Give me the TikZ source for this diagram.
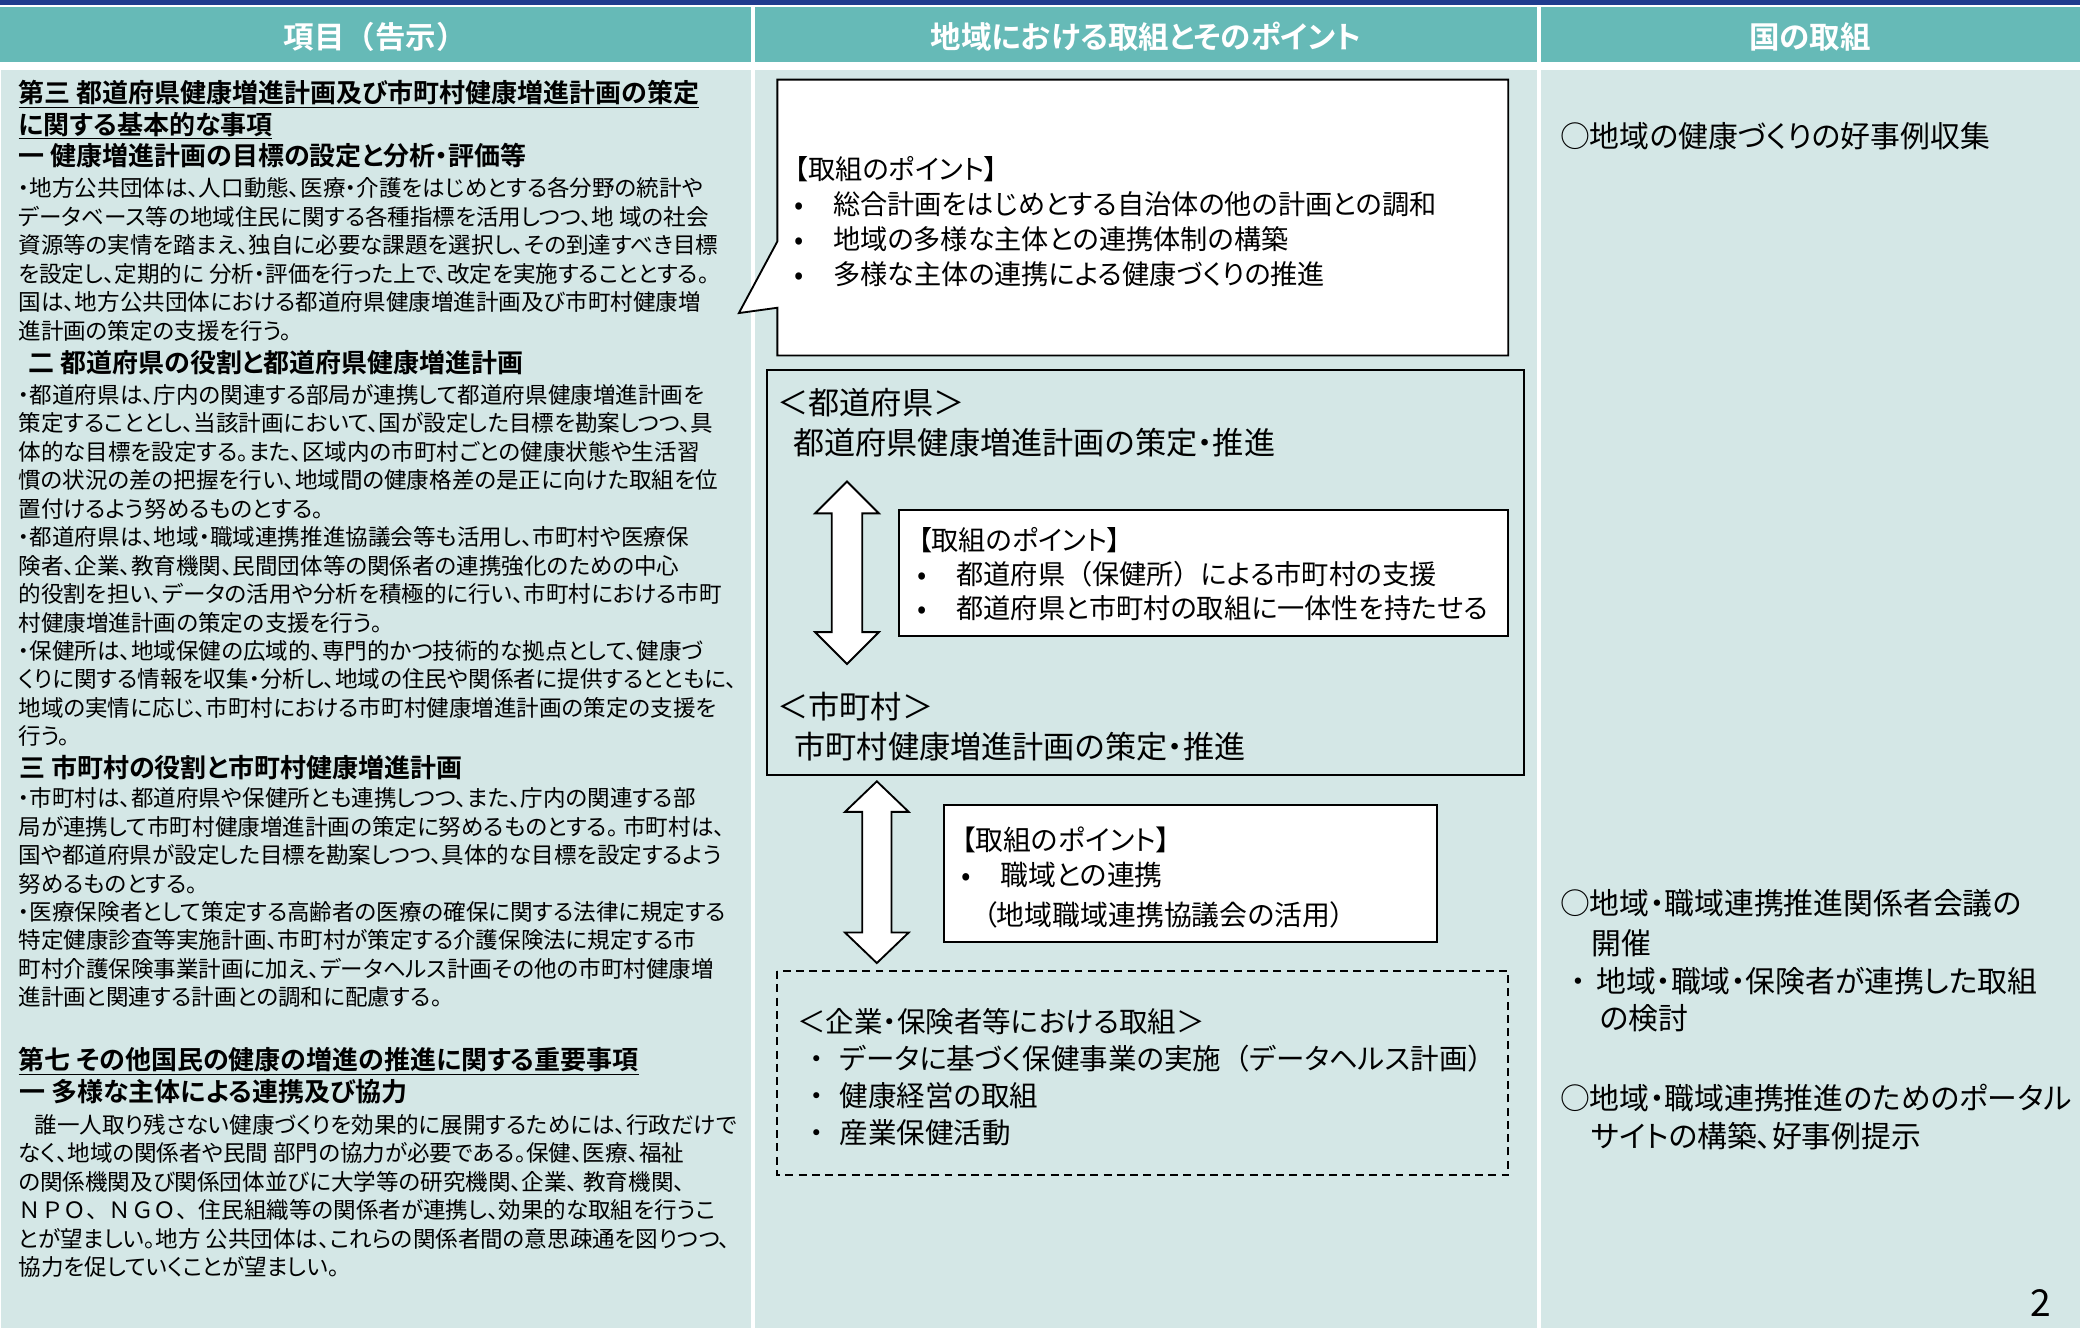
\documentclass[tikz,border=0pt]{standalone}
\usepackage{fontspec}
\setmainfont{Noto Sans CJK JP}[BoldFont={Noto Sans CJK JP Bold},RawFeature=+palt]
\newfontfamily\fwjp{Noto Sans CJK JP}[BoldFont={Noto Sans CJK JP Bold}]
\newcommand{\fwp}[1]{{\fwjp #1}}
\definecolor{hdrteal}{HTML}{66BAB7}
\definecolor{bodybg}{HTML}{D4E7E6}
\definecolor{navytop}{HTML}{203C8E}
\tikzset{
  txt/.style={inner sep=0pt, outer sep=0pt, anchor=base west, align=left, text=black},
  bodyf/.style={txt, font=\fontsize{17pt}{21.45pt}\selectfont},
  headf/.style={txt, font=\bfseries\fontsize{19.6pt}{23.8pt}\selectfont},
  subf/.style={txt, font=\bfseries\fontsize{19.6pt}{22pt}\selectfont},
  colhead/.style={inner sep=0pt, anchor=center, text=white, font=\bfseries\fontsize{23pt}{26pt}\selectfont},
  framebox/.style={draw=black, line width=1.4pt, line join=miter},
  whitebox/.style={framebox, fill=white},
  dashbox/.style={draw=black, line width=1.3pt, dash pattern=on 6pt off 4pt},
  dblarrow/.style={draw=black, fill=white, line width=1.4pt, line join=miter},
  bubblef/.style={txt, font=\fontsize{20.5pt}{26.4pt}\selectfont},
  innerf/.style={txt, font=\fontsize{20.5pt}{25.75pt}\selectfont},
  pointf/.style={txt, font=\fontsize{21pt}{26.6pt}\selectfont},
  bigf/.style={txt, font=\fontsize{23.5pt}{30pt}\selectfont},
  dashf/.style={txt, font=\fontsize{21.5pt}{28pt}\selectfont},
  rightf/.style={txt, font=\fontsize{22.5pt}{29.2pt}\selectfont},
}
\newcommand{\bulbox}[1]{\makebox[#1][l]{•}}
\newcommand{\dotbox}[1]{\makebox[#1][l]{・}}
\begin{document}
\begin{tikzpicture}[x=1pt,y=-1pt]
\useasboundingbox (0,0) rectangle (1568,1004);
\fill[white] (0,0) rectangle (1568,1004);
\fill[navytop] (0,0) rectangle (1568,3.5);
% header cells
\fill[hdrteal] (0,5.5) rectangle (566,47);
\fill[hdrteal] (569,5.5) rectangle (1159,47);
\fill[hdrteal] (1161.5,5.5) rectangle (1568,47);
% body cells
\fill[bodybg] (1,53) rectangle (566,1001);
\fill[bodybg] (569,53) rectangle (1159,1001);
\fill[bodybg] (1161.5,53) rectangle (1568,1001);
\node[colhead] (h1) at (283,27.6) {項目\fwp{（}告示\fwp{）}};
\node[colhead] (h2) at (864,27.6) {地域における取組とそのポイント};
\node[colhead] (h3) at (1364.5,27.6) {国の取組};

% left column (multi-line nodes: anchor at the baseline of their last line)
\node[headf] (l1) at (14,101.4) {\underline{第三 都道府県健康増進計画及び市町村健康増進計画の策定}\\\underline{に関する基本的な事項}};
\node[subf] (l2) at (14,125) {一 健康増進計画の目標の設定と分析・評価等};
\node[bodyf] (l3) at (14,255.55) {・地方公共団体は、人口動態、医療・介護をはじめとする各分野の統計や\\
データベース等の地域住民に関する各種指標を活用しつつ、地 域の社会\\
資源等の実情を踏まえ、独自に必要な課題を選択し、その到達すべき目標\\
を設定し、定期的に 分析・評価を行った上で、改定を実施することとする。\\
国は、地方公共団体における都道府県健康増進計画及び市町村健康増\\
進計画の策定の支援を行う。};
\node[subf] (l4) at (21.5,280.9) {二 都道府県の役割と都道府県健康増進計画};
\node[bodyf] (l5) at (14,561.5) {・都道府県は、庁内の関連する部局が連携して都道府県健康増進計画を\\
策定することとし、当該計画において、国が設定した目標を勘案しつつ、具\\
体的な目標を設定する。また、区域内の市町村ごとの健康状態や生活習\\
慣の状況の差の把握を行い、地域間の健康格差の是正に向けた取組を位\\
置付けるよう努めるものとする。\\
・都道府県は、地域・職域連携推進協議会等も活用し、市町村や医療保\\
険者、企業、教育機関、民間団体等の関係者の連携強化のための中心\\
的役割を担い、データの活用や分析を積極的に行い、市町村における市町\\
村健康増進計画の策定の支援を行う。\\
・保健所は、地域保健の広域的、専門的かつ技術的な拠点として、健康づ\\
くりに関する情報を収集・分析し、地域の住民や関係者に提供するとともに、\\
地域の実情に応じ、市町村における市町村健康増進計画の策定の支援を\\
行う。};
\node[subf] (l6) at (14.5,586.2) {三 市町村の役割と市町村健康増進計画};
\node[bodyf] (l7) at (14,758.25) {・市町村は、都道府県や保健所とも連携しつつ、また、庁内の関連する部\\
局が連携して市町村健康増進計画の策定に努めるものとする。 市町村は、\\
国や都道府県が設定した目標を勘案しつつ、具体的な目標を設定するよう\\
努めるものとする。\\
・医療保険者として策定する高齢者の医療の確保に関する法律に規定する\\
特定健康診査等実施計画、市町村が策定する介護保険法に規定する市\\
町村介護保険事業計画に加え、データヘルス計画その他の市町村健康増\\
進計画と関連する計画との調和に配慮する。};
\node[headf] (l8) at (14,806.2) {\underline{第七 その他国民の健康の増進の推進に関する重要事項}};
\node[subf] (l9) at (14.5,830) {一 多様な主体による連携及び協力};
\node[bodyf] (l10) at (14,961.55) {\hspace*{12pt}誰一人取り残さない健康づくりを効果的に展開するためには、行政だけで\\
なく、地域の関係者や民間 部門の協力が必要である。保健、医療、福祉\\
の関係機関及び関係団体並びに大学等の研究機関、企業、 教育機関、\\
\fwp{ＮＰＯ、ＮＧＯ、}住民組織等の関係者が連携し、効果的な取組を行うこ\\
とが望ましい。地方 公共団体は、これらの関係者間の意思疎通を図りつつ、\\
協力を促していくことが望ましい。};

% middle column: speech bubble
\draw[whitebox] (586,60) -- (1137,60) -- (1137,268) -- (586,268) -- (586,232) -- (557,236) -- (586,182) -- cycle;
\node[bubblef] (m1) at (599,214.2) {【取組のポイント】\\
\bulbox{29pt}総合計画をはじめとする自治体の他の計画との調和\\
\bulbox{29pt}地域の多様な主体との連携体制の構築\\
\bulbox{29pt}多様な主体の連携による健康づくりの推進};

% prefecture / municipality frame
\draw[framebox] (578,279) rectangle (1149,584);
\node[bigf] (m2) at (586,312.7) {＜都道府県＞};
\node[bigf] (m3) at (598,342.7) {都道府県健康増進計画の策定・推進};
\draw[dblarrow] (638.5,363) -- (662.5,387) -- (650,387) -- (650,476.5) -- (662.5,476.5) -- (638.5,500.5) -- (614.5,476.5) -- (627,476.5) -- (627,387) -- (614.5,387) -- cycle;
\draw[whitebox] (678,384.5) rectangle (1137,479.5);
\node[innerf] (m4) at (692,466.4) {【取組のポイント】\\
\bulbox{29pt}都道府県\fwp{（}保健所\fwp{）}による市町村の支援\\
\bulbox{29pt}都道府県と市町村の取組に一体性を持たせる};
\node[bigf] (m5) at (586,541.4) {＜市町村＞};
\node[bigf] (m6) at (599,571.7) {市町村健康増進計画の策定・推進};

% second arrow and point box
\draw[dblarrow] (661,589) -- (685,612) -- (672,612) -- (672,703) -- (685,703) -- (661,726) -- (637,703) -- (650,703) -- (650,612) -- (637,612) -- cycle;
\draw[whitebox] (711.5,607) rectangle (1083.5,710);
\node[pointf] (m7) at (725,698) {【取組のポイント】\\
\bulbox{29pt}職域との連携\\[3.8pt]
\hspace*{16pt}（地域職域連携協議会の活用）};

% dashed box
\draw[dashbox] (586,732) rectangle (1137,886);
\node[dashf] (m8) at (601,862.2) {＜企業・保険者等における取組＞\\
\hspace*{9.6pt}\dotbox{22.4pt}データに基づく保健事業の実施\fwp{（}データヘルス計画\fwp{）}\\
\hspace*{9.6pt}\dotbox{22.4pt}健康経営の取組\\
\hspace*{9.6pt}\dotbox{22.4pt}産業保健活動};

% right column
\node[rightf] (r1) at (1176,111.4) {○地域の健康づくりの好事例収集};
\node[rightf] (r2) at (1176,689.4) {○地域・職域連携推進関係者会議の};
\node[rightf] (r3) at (1199.5,719.4) {開催};
\node[rightf] (r4) at (1184.5,748.4) {\dotbox{19pt}地域・職域・保険者が連携した取組};
\node[rightf] (r5) at (1206,776) {の検討};
\node[rightf] (r6) at (1176,865.4) {○地域・職域連携推進のためのポータル\\
\hspace*{23.5pt}サイトの構築、好事例提示};
\node[txt, font=\fontsize{28pt}{30pt}\selectfont] (pg) at (1530.5,992.2) {2};
\end{tikzpicture}
\end{document}
